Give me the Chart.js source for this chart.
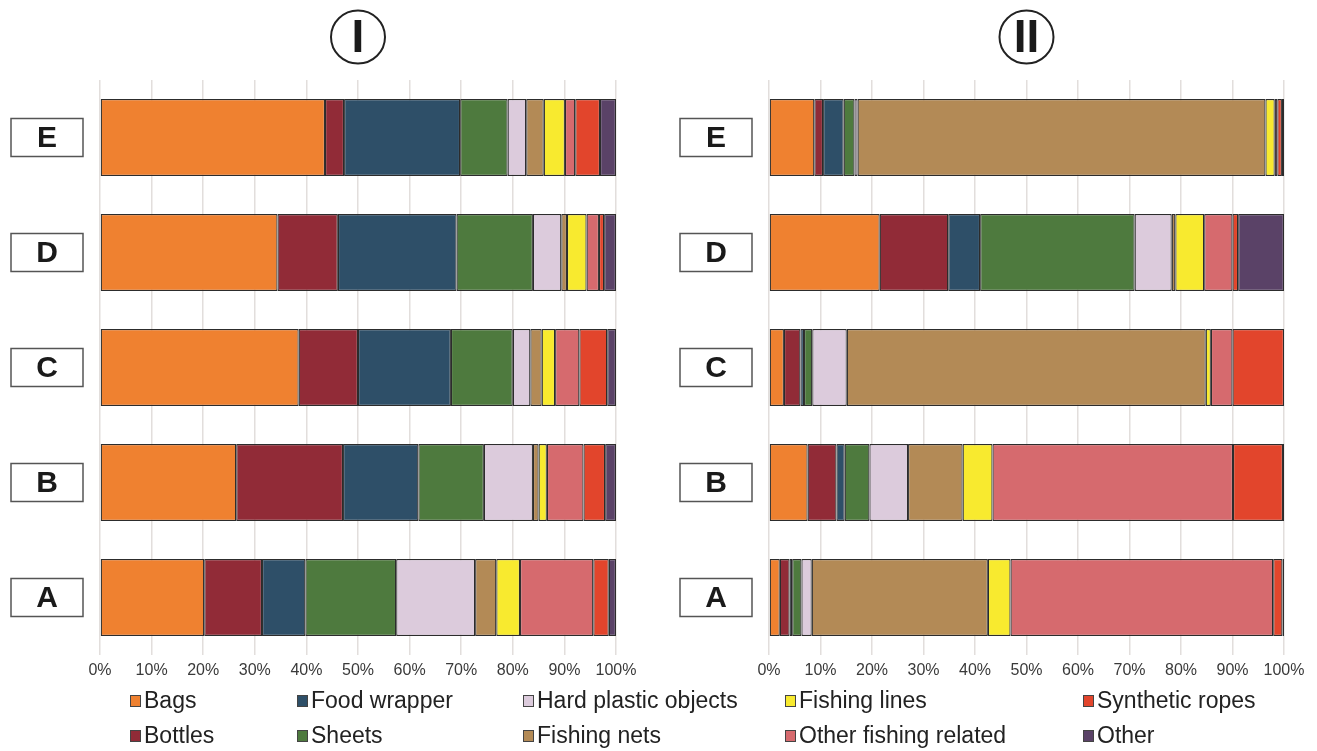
<!DOCTYPE html>
<html>
<head>
<meta charset="utf-8">
<script src="https://cdn.jsdelivr.net/npm/chart.js@4/dist/chart.umd.min.js"></script>
<style>
  html, body { margin: 0; padding: 0; background: #fff; }
  body { width: 1317px; height: 751px; position: relative; overflow: hidden; font-family: "Liberation Sans", Arial, sans-serif; }
  #panel-1 { position: absolute; left: 0; top: 0; }
  #panel-2 { position: absolute; left: 660px; top: 0; }
  #legend {
    position: absolute; left: 130px; top: 683px;
    display: grid; grid-auto-flow: column;
    grid-template-rows: 35px 35px;
    grid-template-columns: 167px 226px 262px 298px auto;
  }
  .item { display: flex; align-items: center; font-size: 23px; color: #222; }
  .swatch { width: 11px; height: 12px; border: 1px solid #444; margin-right: 3px; box-sizing: border-box; }
</style>
</head>
<body>
<canvas id="panel-1" width="650" height="690"></canvas>
<canvas id="panel-2" width="657" height="690"></canvas>
<div id="legend"></div>
<script>
  // sites, top to bottom
  const categories = ["E", "D", "C", "B", "A"];
  const seriesNames = ["Bags", "Bottles", "Food wrapper", "Sheets", "Hard plastic objects",
    "Fishing nets", "Fishing lines", "Other fishing related", "Synthetic ropes", "Other"];
  const seriesColors = ["#ef8130", "#912b37", "#2e4f68", "#4e7a3e", "#dccbdc",
    "#b38a56", "#f8ea2f", "#d66a6e", "#e2452c", "#5a4267"];
  const xTicks = [0, 10, 20, 30, 40, 50, 60, 70, 80, 90, 100];

  // panel I shares (%), one array per litter type, in E..A order
  const bagsI = [43.6, 34.4, 38.5, 26.4, 20.2];
  const bottlesI = [3.7, 11.7, 11.5, 20.7, 11.2];
  const foodWrapperI = [22.5, 23.0, 18.0, 14.6, 8.4];
  const sheetsI = [9.2, 14.8, 12.0, 12.7, 17.6];
  const hardPlasticI = [3.6, 5.5, 3.4, 9.5, 15.3];
  const fishingNetsI = [3.4, 1.1, 2.2, 1.1, 4.1];
  const fishingLinesI = [4.1, 3.8, 2.6, 1.6, 4.6];
  const otherFishingI = [2.0, 2.4, 4.7, 7.1, 14.2];
  const ropesI = [4.8, 1.0, 5.4, 4.2, 3.0];
  const otherI = [3.1, 2.3, 1.7, 2.1, 1.4];

  // panel II shares (%)
  const bagsII = [8.8, 21.5, 2.9, 7.5, 2.1];
  const bottlesII = [1.7, 13.3, 3.2, 5.6, 1.9];
  const foodWrapperII = [4.0, 6.2, 0.7, 1.6, 0.5];
  const sheetsII = [2.1, 30.0, 1.6, 4.8, 1.8];
  const hardPlasticII = [0.6, 7.2, 6.7, 7.5, 2.0];
  const fishingNetsII = [79.2, 0.7, 69.7, 10.6, 34.2];
  const fishingLinesII = [1.8, 5.6, 1.0, 5.8, 4.4];
  const otherFishingII = [0.5, 5.5, 4.2, 46.7, 51.0];
  const ropesII = [0.9, 1.1, 10.0, 9.7, 1.8];
  const otherII = [0.4, 8.9, 0, 0.2, 0.3];

  const panelI = [bagsI, bottlesI, foodWrapperI, sheetsI, hardPlasticI,
    fishingNetsI, fishingLinesI, otherFishingI, ropesI, otherI];
  const panelII = [bagsII, bottlesII, foodWrapperII, sheetsII, hardPlasticII,
    fishingNetsII, fishingLinesII, otherFishingII, ropesII, otherII];

  const FONT = "'Liberation Sans', Arial, sans-serif";

  // circled roman numeral above the plot and boxed site letters on the left
  const panelDecor = {
    id: "panelDecor",
    afterDraw(chart, args, opts) {
      const { ctx, chartArea } = chart;
      const yScale = chart.scales.y;
      ctx.save();
      const cx = (chartArea.left + chartArea.right) / 2;
      ctx.beginPath();
      ctx.ellipse(cx, 37, 27, 26.5, 0, 0, Math.PI * 2);
      ctx.lineWidth = 2;
      ctx.strokeStyle = "#222";
      ctx.stroke();
      ctx.fillStyle = "#1a1a1a";
      ctx.font = "bold 46px " + FONT;
      ctx.textAlign = "center";
      ctx.textBaseline = "middle";
      ctx.fillText(opts.title, cx, 39);

      categories.forEach((c, i) => {
        const y = yScale.getPixelForValue(i);
        const x = chartArea.left - 89;
        ctx.fillStyle = "#fff";
        ctx.fillRect(x, y - 19, 72, 38);
        ctx.lineWidth = 1.5;
        ctx.strokeStyle = "#555";
        ctx.strokeRect(x, y - 19, 72, 38);
        ctx.fillStyle = "#1a1a1a";
        ctx.font = "bold 30px " + FONT;
        ctx.fillText(c, x + 36, y + 1);
      });
      ctx.restore();
    },
  };

  function makePanel(canvasId, values, title, axisWidth, rightPad) {
    const datasets = values.map((v, i) => ({
      label: seriesNames[i],
      data: v,
      backgroundColor: seriesColors[i],
      borderColor: "#2c2c2c",
      borderWidth: 1.2,
      borderSkipped: false,
      barPercentage: 0.67,
      categoryPercentage: 1,
    }));
    return new Chart(document.getElementById(canvasId), {
      type: "bar",
      data: { labels: categories, datasets },
      plugins: [panelDecor],
      options: {
        indexAxis: "y",
        responsive: false,
        animation: false,
        layout: { padding: { top: 80, right: rightPad, left: 0, bottom: 0 } },
        plugins: {
          legend: { display: false },
          tooltip: { enabled: false },
          panelDecor: { title },
        },
        scales: {
          x: {
            stacked: true,
            min: 0,
            max: 100,
            afterBuildTicks: (scale) => { scale.ticks = xTicks.map((v) => ({ value: v })); },
            afterFit: (scale) => { scale.height = 35; },
            grid: { color: "#e2dedc", lineWidth: 1.5, drawTicks: false },
            border: { display: false },
            ticks: {
              padding: 6,
              color: "#3a3a3a",
              font: { family: FONT, size: 16 },
              callback: (v) => v + "%",
            },
          },
          y: {
            stacked: true,
            afterFit: (scale) => { scale.width = axisWidth; },
            grid: { display: false },
            border: { display: false },
            ticks: { display: false },
          },
        },
      },
    });
  }

  makePanel("panel-1", panelI, "I", 100, 34);
  makePanel("panel-2", panelII, "II", 109, 33);

  // legend, filled column by column
  const legendEl = document.getElementById("legend");
  seriesNames.forEach((name, i) => {
    const item = document.createElement("div");
    item.className = "item";
    const sw = document.createElement("span");
    sw.className = "swatch";
    sw.style.background = seriesColors[i];
    item.appendChild(sw);
    item.appendChild(document.createTextNode(name));
    legendEl.appendChild(item);
  });
</script>
</body>
</html>
